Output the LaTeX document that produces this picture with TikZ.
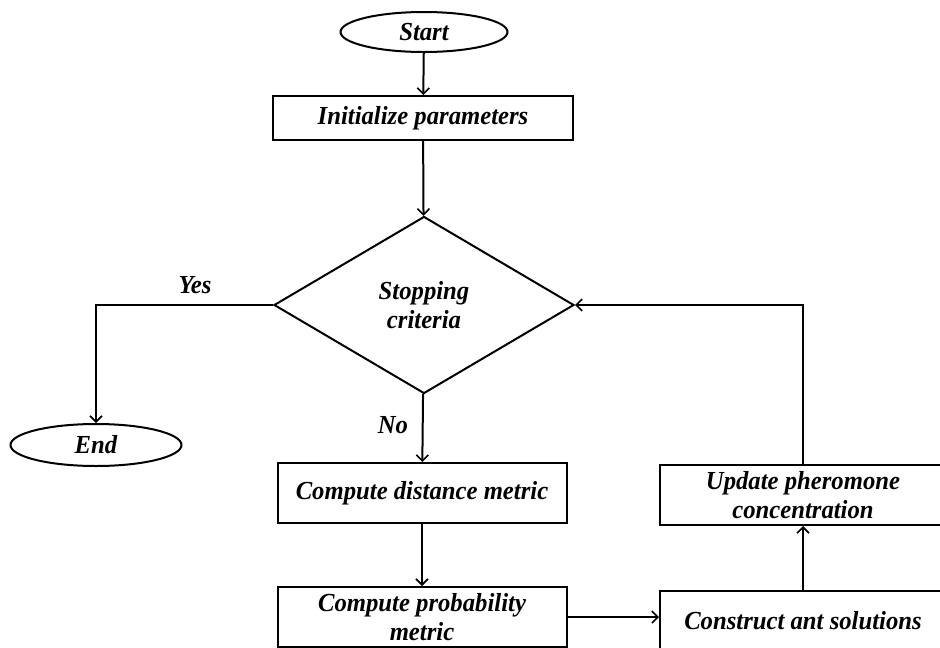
\documentclass[tikz,border=0pt]{standalone}
\usepackage{fontspec}
\setmainfont{Liberation Serif}[FakeStretch=0.95]
\usetikzlibrary{shapes.geometric,arrows.meta}

\begin{document}
\begin{tikzpicture}[x=1pt,y=-1pt,
  font=\fontsize{26}{29}\selectfont\bfseries\itshape,
  flow/.style={line width=2pt},
  arr/.style={flow,-{Straight Barb[length=6pt,width=12pt,line width=1.6pt]}},
  procbox/.style={draw,line width=2pt,rectangle,inner sep=0pt,align=center},
  term/.style={draw,line width=2pt,ellipse,inner sep=0pt},
  decide/.style={draw,line width=2pt,diamond,inner sep=0pt,align=center}]
\useasboundingbox (0,0) rectangle (940,648);
\fill[white] (0,0) rectangle (940,648);
\clip (0,0) rectangle (940,648);

% terminals, steps and the decision
\node[term,minimum width=167pt,minimum height=40pt] (start) at (424,32) {Start};
\node[procbox,minimum width=300pt,minimum height=44pt] (init) at (423,118) {Initialize parameters};
\node[decide,minimum width=300pt,minimum height=177pt] (crit) at (424,305) {Stopping\\criteria};
\node[term,minimum width=171pt,minimum height=42pt] (endn) at (96,445) {End};
\node[procbox,minimum width=289pt,minimum height=60pt] (dist) at (422,493) {Compute distance metric};
\node[procbox,minimum width=289pt,minimum height=60pt] (prob) at (422,617) {Compute probability\\metric};
\node[procbox,minimum width=286pt,minimum height=60pt] (update) at (803,495) {Update pheromone\\concentration};
\node[procbox,minimum width=286pt,minimum height=60pt] (construct) at (803,621) {Construct ant solutions};

% branch labels
\node (yes) at (195,285) {Yes};
\node (no) at (393,425) {No};

% connectors
\draw[arr] (start) -- (init);
\draw[arr] (init) -- (crit);
\draw[arr] (crit.west) -| (endn.north);
\draw[arr] (crit) -- (dist);
\draw[arr] (dist) -- (prob);
\draw[arr] (prob.east) -- (prob.east -| construct.west);
\draw[arr] (construct) -- (update);
\draw[arr] (update.north) |- (crit.east);
\end{tikzpicture}
\end{document}
